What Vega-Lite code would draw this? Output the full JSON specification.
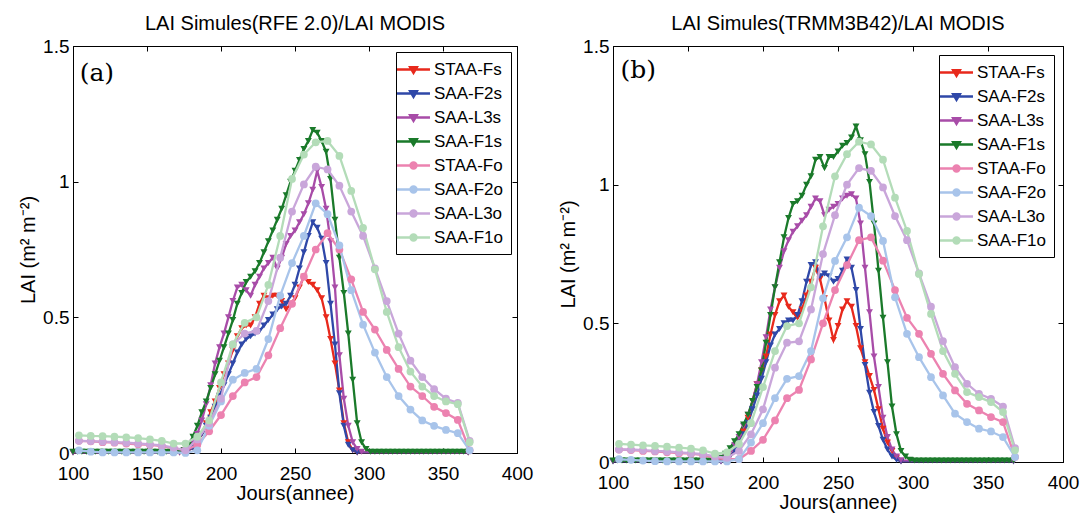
{
"$schema":"https://vega.github.io/schema/vega-lite/v6.json",
"padding":{"left":18,"top":13,"right":5,"bottom":5},
"config":{"font":"Liberation Sans","view":{"stroke":"black","strokeWidth":1},
"axis":{"grid":false,"domainColor":"black","tickColor":"black","labelColor":"black","titleColor":"black","labelFont":"Liberation Sans","titleFont":"Liberation Sans","labelFontSize":19,"titleFontSize":20,"titleFontWeight":"normal","tickSize":-5,"labelFlush":false,"labelOverlap":false},
"title":{"font":"Liberation Sans","fontSize":20,"fontWeight":"normal","color":"black","offset":3,"anchor":"middle"}},
"datasets":{
"a":[
{"s":"Fs","d":100,"v":0.002},{"s":"Fs","d":172,"v":0.002},{"s":"Fs","d":175,"v":0.005},{"s":"Fs","d":178,"v":0.01},{"s":"Fs","d":181,"v":0.02},{"s":"Fs","d":184,"v":0.04},{"s":"Fs","d":187,"v":0.07},{"s":"Fs","d":190,"v":0.11},{"s":"Fs","d":193,"v":0.15},{"s":"Fs","d":196,"v":0.19},{"s":"Fs","d":199,"v":0.24},{"s":"Fs","d":202,"v":0.29},{"s":"Fs","d":205,"v":0.33},{"s":"Fs","d":208,"v":0.38},{"s":"Fs","d":211,"v":0.43},{"s":"Fs","d":214,"v":0.46},{"s":"Fs","d":217,"v":0.47},{"s":"Fs","d":220,"v":0.47},{"s":"Fs","d":223,"v":0.5},{"s":"Fs","d":226,"v":0.55},{"s":"Fs","d":229,"v":0.58},{"s":"Fs","d":232,"v":0.57},{"s":"Fs","d":235,"v":0.58},{"s":"Fs","d":238,"v":0.58},{"s":"Fs","d":241,"v":0.56},{"s":"Fs","d":244,"v":0.53},{"s":"Fs","d":247,"v":0.55},{"s":"Fs","d":250,"v":0.57},{"s":"Fs","d":253,"v":0.61},{"s":"Fs","d":256,"v":0.65},{"s":"Fs","d":259,"v":0.63},{"s":"Fs","d":262,"v":0.62},{"s":"Fs","d":265,"v":0.6},{"s":"Fs","d":268,"v":0.57},{"s":"Fs","d":271,"v":0.5},{"s":"Fs","d":274,"v":0.42},{"s":"Fs","d":277,"v":0.33},{"s":"Fs","d":280,"v":0.23},{"s":"Fs","d":283,"v":0.11},{"s":"Fs","d":286,"v":0.04},{"s":"Fs","d":289,"v":0.01},{"s":"Fs","d":292,"v":0.002},{"s":"Fs","d":367,"v":0.002},
{"s":"F2s","d":100,"v":0.002},{"s":"F2s","d":172,"v":0.002},{"s":"F2s","d":175,"v":0.005},{"s":"F2s","d":178,"v":0.01},{"s":"F2s","d":181,"v":0.02},{"s":"F2s","d":184,"v":0.04},{"s":"F2s","d":187,"v":0.07},{"s":"F2s","d":190,"v":0.1},{"s":"F2s","d":193,"v":0.13},{"s":"F2s","d":196,"v":0.17},{"s":"F2s","d":199,"v":0.21},{"s":"F2s","d":202,"v":0.25},{"s":"F2s","d":205,"v":0.29},{"s":"F2s","d":208,"v":0.33},{"s":"F2s","d":211,"v":0.37},{"s":"F2s","d":214,"v":0.4},{"s":"F2s","d":217,"v":0.42},{"s":"F2s","d":220,"v":0.43},{"s":"F2s","d":223,"v":0.44},{"s":"F2s","d":226,"v":0.45},{"s":"F2s","d":229,"v":0.47},{"s":"F2s","d":232,"v":0.49},{"s":"F2s","d":235,"v":0.51},{"s":"F2s","d":238,"v":0.53},{"s":"F2s","d":241,"v":0.54},{"s":"F2s","d":244,"v":0.55},{"s":"F2s","d":247,"v":0.58},{"s":"F2s","d":250,"v":0.62},{"s":"F2s","d":253,"v":0.68},{"s":"F2s","d":256,"v":0.74},{"s":"F2s","d":259,"v":0.8},{"s":"F2s","d":262,"v":0.85},{"s":"F2s","d":265,"v":0.83},{"s":"F2s","d":268,"v":0.79},{"s":"F2s","d":271,"v":0.7},{"s":"F2s","d":274,"v":0.55},{"s":"F2s","d":277,"v":0.4},{"s":"F2s","d":280,"v":0.22},{"s":"F2s","d":283,"v":0.1},{"s":"F2s","d":286,"v":0.03},{"s":"F2s","d":289,"v":0.01},{"s":"F2s","d":292,"v":0.002},{"s":"F2s","d":367,"v":0.002},
{"s":"L3s","d":100,"v":0.003},{"s":"L3s","d":172,"v":0.003},{"s":"L3s","d":175,"v":0.01},{"s":"L3s","d":178,"v":0.02},{"s":"L3s","d":181,"v":0.04},{"s":"L3s","d":184,"v":0.07},{"s":"L3s","d":187,"v":0.12},{"s":"L3s","d":190,"v":0.18},{"s":"L3s","d":193,"v":0.25},{"s":"L3s","d":196,"v":0.33},{"s":"L3s","d":199,"v":0.39},{"s":"L3s","d":202,"v":0.44},{"s":"L3s","d":205,"v":0.5},{"s":"L3s","d":208,"v":0.56},{"s":"L3s","d":211,"v":0.61},{"s":"L3s","d":214,"v":0.62},{"s":"L3s","d":217,"v":0.6},{"s":"L3s","d":220,"v":0.58},{"s":"L3s","d":223,"v":0.62},{"s":"L3s","d":226,"v":0.65},{"s":"L3s","d":229,"v":0.68},{"s":"L3s","d":232,"v":0.7},{"s":"L3s","d":235,"v":0.72},{"s":"L3s","d":238,"v":0.68},{"s":"L3s","d":241,"v":0.72},{"s":"L3s","d":244,"v":0.77},{"s":"L3s","d":247,"v":0.8},{"s":"L3s","d":250,"v":0.82},{"s":"L3s","d":253,"v":0.85},{"s":"L3s","d":256,"v":0.88},{"s":"L3s","d":259,"v":0.92},{"s":"L3s","d":262,"v":0.97},{"s":"L3s","d":265,"v":1.04},{"s":"L3s","d":268,"v":0.98},{"s":"L3s","d":271,"v":0.9},{"s":"L3s","d":274,"v":0.78},{"s":"L3s","d":277,"v":0.61},{"s":"L3s","d":280,"v":0.36},{"s":"L3s","d":283,"v":0.2},{"s":"L3s","d":286,"v":0.1},{"s":"L3s","d":289,"v":0.04},{"s":"L3s","d":292,"v":0.015},{"s":"L3s","d":295,"v":0.005},{"s":"L3s","d":367,"v":0.003},
{"s":"F1s","d":100,"v":0.005},{"s":"F1s","d":103,"v":0.005},{"s":"F1s","d":106,"v":0.005},{"s":"F1s","d":109,"v":0.005},{"s":"F1s","d":112,"v":0.005},{"s":"F1s","d":115,"v":0.005},{"s":"F1s","d":118,"v":0.005},{"s":"F1s","d":121,"v":0.005},{"s":"F1s","d":124,"v":0.005},{"s":"F1s","d":127,"v":0.005},{"s":"F1s","d":130,"v":0.005},{"s":"F1s","d":133,"v":0.005},{"s":"F1s","d":136,"v":0.005},{"s":"F1s","d":139,"v":0.005},{"s":"F1s","d":142,"v":0.005},{"s":"F1s","d":145,"v":0.005},{"s":"F1s","d":148,"v":0.005},{"s":"F1s","d":151,"v":0.005},{"s":"F1s","d":154,"v":0.005},{"s":"F1s","d":157,"v":0.005},{"s":"F1s","d":160,"v":0.005},{"s":"F1s","d":163,"v":0.005},{"s":"F1s","d":166,"v":0.005},{"s":"F1s","d":169,"v":0.005},{"s":"F1s","d":172,"v":0.006},{"s":"F1s","d":175,"v":0.01},{"s":"F1s","d":178,"v":0.03},{"s":"F1s","d":181,"v":0.06},{"s":"F1s","d":184,"v":0.1},{"s":"F1s","d":187,"v":0.15},{"s":"F1s","d":190,"v":0.19},{"s":"F1s","d":193,"v":0.24},{"s":"F1s","d":196,"v":0.29},{"s":"F1s","d":199,"v":0.34},{"s":"F1s","d":202,"v":0.39},{"s":"F1s","d":205,"v":0.44},{"s":"F1s","d":208,"v":0.49},{"s":"F1s","d":211,"v":0.55},{"s":"F1s","d":214,"v":0.59},{"s":"F1s","d":217,"v":0.63},{"s":"F1s","d":220,"v":0.65},{"s":"F1s","d":223,"v":0.67},{"s":"F1s","d":226,"v":0.7},{"s":"F1s","d":229,"v":0.74},{"s":"F1s","d":232,"v":0.78},{"s":"F1s","d":235,"v":0.82},{"s":"F1s","d":238,"v":0.86},{"s":"F1s","d":241,"v":0.9},{"s":"F1s","d":244,"v":0.95},{"s":"F1s","d":247,"v":1.0},{"s":"F1s","d":250,"v":1.04},{"s":"F1s","d":253,"v":1.08},{"s":"F1s","d":256,"v":1.12},{"s":"F1s","d":259,"v":1.15},{"s":"F1s","d":262,"v":1.19},{"s":"F1s","d":265,"v":1.18},{"s":"F1s","d":268,"v":1.15},{"s":"F1s","d":271,"v":1.11},{"s":"F1s","d":274,"v":1.01},{"s":"F1s","d":277,"v":0.86},{"s":"F1s","d":280,"v":0.72},{"s":"F1s","d":283,"v":0.59},{"s":"F1s","d":286,"v":0.44},{"s":"F1s","d":289,"v":0.27},{"s":"F1s","d":292,"v":0.11},{"s":"F1s","d":295,"v":0.04},{"s":"F1s","d":298,"v":0.015},{"s":"F1s","d":301,"v":0.005},{"s":"F1s","d":304,"v":0.005},{"s":"F1s","d":307,"v":0.005},{"s":"F1s","d":310,"v":0.005},{"s":"F1s","d":313,"v":0.005},{"s":"F1s","d":316,"v":0.005},{"s":"F1s","d":319,"v":0.005},{"s":"F1s","d":322,"v":0.005},{"s":"F1s","d":325,"v":0.005},{"s":"F1s","d":328,"v":0.005},{"s":"F1s","d":331,"v":0.005},{"s":"F1s","d":334,"v":0.005},{"s":"F1s","d":337,"v":0.005},{"s":"F1s","d":340,"v":0.005},{"s":"F1s","d":343,"v":0.005},{"s":"F1s","d":346,"v":0.005},{"s":"F1s","d":349,"v":0.005},{"s":"F1s","d":352,"v":0.005},{"s":"F1s","d":355,"v":0.005},{"s":"F1s","d":358,"v":0.005},{"s":"F1s","d":361,"v":0.005},{"s":"F1s","d":364,"v":0.005},{"s":"F1s","d":367,"v":0.005},
{"s":"Fo","d":104,"v":0.045},{"s":"Fo","d":112,"v":0.043},{"s":"Fo","d":120,"v":0.04},{"s":"Fo","d":128,"v":0.038},{"s":"Fo","d":136,"v":0.035},{"s":"Fo","d":144,"v":0.032},{"s":"Fo","d":152,"v":0.03},{"s":"Fo","d":160,"v":0.025},{"s":"Fo","d":168,"v":0.018},{"s":"Fo","d":176,"v":0.01},{"s":"Fo","d":184,"v":0.03},{"s":"Fo","d":192,"v":0.08},{"s":"Fo","d":200,"v":0.14},{"s":"Fo","d":208,"v":0.21},{"s":"Fo","d":216,"v":0.26},{"s":"Fo","d":224,"v":0.28},{"s":"Fo","d":232,"v":0.36},{"s":"Fo","d":240,"v":0.46},{"s":"Fo","d":248,"v":0.55},{"s":"Fo","d":256,"v":0.65},{"s":"Fo","d":264,"v":0.75},{"s":"Fo","d":272,"v":0.81},{"s":"Fo","d":280,"v":0.75},{"s":"Fo","d":288,"v":0.64},{"s":"Fo","d":296,"v":0.52},{"s":"Fo","d":304,"v":0.455},{"s":"Fo","d":312,"v":0.38},{"s":"Fo","d":320,"v":0.31},{"s":"Fo","d":328,"v":0.245},{"s":"Fo","d":336,"v":0.21},{"s":"Fo","d":344,"v":0.17},{"s":"Fo","d":352,"v":0.147},{"s":"Fo","d":360,"v":0.122},{"s":"Fo","d":368,"v":0.01},
{"s":"F2o","d":104,"v":0.01},{"s":"F2o","d":112,"v":0.005},{"s":"F2o","d":120,"v":0.002},{"s":"F2o","d":128,"v":0.002},{"s":"F2o","d":136,"v":0.002},{"s":"F2o","d":144,"v":0.002},{"s":"F2o","d":152,"v":0.002},{"s":"F2o","d":160,"v":0.002},{"s":"F2o","d":168,"v":0.002},{"s":"F2o","d":176,"v":0.0},{"s":"F2o","d":184,"v":0.01},{"s":"F2o","d":192,"v":0.1},{"s":"F2o","d":200,"v":0.19},{"s":"F2o","d":208,"v":0.27},{"s":"F2o","d":216,"v":0.295},{"s":"F2o","d":224,"v":0.31},{"s":"F2o","d":232,"v":0.42},{"s":"F2o","d":240,"v":0.58},{"s":"F2o","d":248,"v":0.7},{"s":"F2o","d":256,"v":0.8},{"s":"F2o","d":264,"v":0.92},{"s":"F2o","d":272,"v":0.88},{"s":"F2o","d":280,"v":0.765},{"s":"F2o","d":288,"v":0.6},{"s":"F2o","d":296,"v":0.473},{"s":"F2o","d":304,"v":0.37},{"s":"F2o","d":312,"v":0.28},{"s":"F2o","d":320,"v":0.21},{"s":"F2o","d":328,"v":0.16},{"s":"F2o","d":336,"v":0.12},{"s":"F2o","d":344,"v":0.1},{"s":"F2o","d":352,"v":0.085},{"s":"F2o","d":360,"v":0.073},{"s":"F2o","d":368,"v":0.01},
{"s":"L3o","d":104,"v":0.045},{"s":"L3o","d":112,"v":0.044},{"s":"L3o","d":120,"v":0.042},{"s":"L3o","d":128,"v":0.04},{"s":"L3o","d":136,"v":0.038},{"s":"L3o","d":144,"v":0.035},{"s":"L3o","d":152,"v":0.032},{"s":"L3o","d":160,"v":0.028},{"s":"L3o","d":168,"v":0.02},{"s":"L3o","d":176,"v":0.01},{"s":"L3o","d":184,"v":0.05},{"s":"L3o","d":192,"v":0.11},{"s":"L3o","d":200,"v":0.2},{"s":"L3o","d":208,"v":0.4},{"s":"L3o","d":216,"v":0.44},{"s":"L3o","d":224,"v":0.45},{"s":"L3o","d":232,"v":0.56},{"s":"L3o","d":240,"v":0.72},{"s":"L3o","d":248,"v":0.89},{"s":"L3o","d":256,"v":0.99},{"s":"L3o","d":264,"v":1.055},{"s":"L3o","d":272,"v":1.045},{"s":"L3o","d":280,"v":0.985},{"s":"L3o","d":288,"v":0.89},{"s":"L3o","d":296,"v":0.8},{"s":"L3o","d":304,"v":0.68},{"s":"L3o","d":312,"v":0.56},{"s":"L3o","d":320,"v":0.44},{"s":"L3o","d":328,"v":0.34},{"s":"L3o","d":336,"v":0.28},{"s":"L3o","d":344,"v":0.235},{"s":"L3o","d":352,"v":0.2},{"s":"L3o","d":360,"v":0.185},{"s":"L3o","d":368,"v":0.045},
{"s":"F1o","d":104,"v":0.065},{"s":"F1o","d":112,"v":0.063},{"s":"F1o","d":120,"v":0.062},{"s":"F1o","d":128,"v":0.06},{"s":"F1o","d":136,"v":0.058},{"s":"F1o","d":144,"v":0.055},{"s":"F1o","d":152,"v":0.05},{"s":"F1o","d":160,"v":0.045},{"s":"F1o","d":168,"v":0.035},{"s":"F1o","d":176,"v":0.035},{"s":"F1o","d":184,"v":0.06},{"s":"F1o","d":192,"v":0.12},{"s":"F1o","d":200,"v":0.26},{"s":"F1o","d":208,"v":0.4},{"s":"F1o","d":216,"v":0.48},{"s":"F1o","d":224,"v":0.5},{"s":"F1o","d":232,"v":0.62},{"s":"F1o","d":240,"v":0.8},{"s":"F1o","d":248,"v":1.01},{"s":"F1o","d":256,"v":1.1},{"s":"F1o","d":264,"v":1.145},{"s":"F1o","d":272,"v":1.15},{"s":"F1o","d":280,"v":1.095},{"s":"F1o","d":288,"v":0.966},{"s":"F1o","d":296,"v":0.83},{"s":"F1o","d":304,"v":0.677},{"s":"F1o","d":312,"v":0.52},{"s":"F1o","d":320,"v":0.39},{"s":"F1o","d":328,"v":0.3},{"s":"F1o","d":336,"v":0.245},{"s":"F1o","d":344,"v":0.21},{"s":"F1o","d":352,"v":0.19},{"s":"F1o","d":360,"v":0.18},{"s":"F1o","d":368,"v":0.04}
],
"b":[
{"s":"Fs","d":100,"v":0.003},{"s":"Fs","d":172,"v":0.003},{"s":"Fs","d":175,"v":0.01},{"s":"Fs","d":178,"v":0.02},{"s":"Fs","d":181,"v":0.04},{"s":"Fs","d":184,"v":0.07},{"s":"Fs","d":187,"v":0.11},{"s":"Fs","d":190,"v":0.16},{"s":"Fs","d":193,"v":0.22},{"s":"Fs","d":196,"v":0.28},{"s":"Fs","d":199,"v":0.33},{"s":"Fs","d":202,"v":0.38},{"s":"Fs","d":205,"v":0.46},{"s":"Fs","d":208,"v":0.53},{"s":"Fs","d":211,"v":0.58},{"s":"Fs","d":214,"v":0.6},{"s":"Fs","d":217,"v":0.56},{"s":"Fs","d":220,"v":0.54},{"s":"Fs","d":223,"v":0.52},{"s":"Fs","d":226,"v":0.55},{"s":"Fs","d":229,"v":0.6},{"s":"Fs","d":232,"v":0.65},{"s":"Fs","d":235,"v":0.7},{"s":"Fs","d":238,"v":0.66},{"s":"Fs","d":241,"v":0.59},{"s":"Fs","d":244,"v":0.51},{"s":"Fs","d":247,"v":0.44},{"s":"Fs","d":250,"v":0.49},{"s":"Fs","d":253,"v":0.55},{"s":"Fs","d":256,"v":0.58},{"s":"Fs","d":259,"v":0.56},{"s":"Fs","d":262,"v":0.49},{"s":"Fs","d":265,"v":0.41},{"s":"Fs","d":268,"v":0.36},{"s":"Fs","d":271,"v":0.31},{"s":"Fs","d":274,"v":0.26},{"s":"Fs","d":277,"v":0.19},{"s":"Fs","d":280,"v":0.12},{"s":"Fs","d":283,"v":0.07},{"s":"Fs","d":286,"v":0.04},{"s":"Fs","d":289,"v":0.015},{"s":"Fs","d":292,"v":0.003},{"s":"Fs","d":367,"v":0.003},
{"s":"F2s","d":100,"v":0.002},{"s":"F2s","d":172,"v":0.002},{"s":"F2s","d":175,"v":0.01},{"s":"F2s","d":178,"v":0.02},{"s":"F2s","d":181,"v":0.04},{"s":"F2s","d":184,"v":0.07},{"s":"F2s","d":187,"v":0.1},{"s":"F2s","d":190,"v":0.14},{"s":"F2s","d":193,"v":0.19},{"s":"F2s","d":196,"v":0.24},{"s":"F2s","d":199,"v":0.3},{"s":"F2s","d":202,"v":0.36},{"s":"F2s","d":205,"v":0.42},{"s":"F2s","d":208,"v":0.46},{"s":"F2s","d":211,"v":0.48},{"s":"F2s","d":214,"v":0.5},{"s":"F2s","d":217,"v":0.51},{"s":"F2s","d":220,"v":0.51},{"s":"F2s","d":223,"v":0.53},{"s":"F2s","d":226,"v":0.58},{"s":"F2s","d":229,"v":0.65},{"s":"F2s","d":232,"v":0.71},{"s":"F2s","d":235,"v":0.72},{"s":"F2s","d":238,"v":0.67},{"s":"F2s","d":241,"v":0.68},{"s":"F2s","d":244,"v":0.67},{"s":"F2s","d":247,"v":0.65},{"s":"F2s","d":250,"v":0.66},{"s":"F2s","d":253,"v":0.69},{"s":"F2s","d":256,"v":0.73},{"s":"F2s","d":259,"v":0.7},{"s":"F2s","d":262,"v":0.62},{"s":"F2s","d":265,"v":0.48},{"s":"F2s","d":268,"v":0.35},{"s":"F2s","d":271,"v":0.25},{"s":"F2s","d":274,"v":0.18},{"s":"F2s","d":277,"v":0.13},{"s":"F2s","d":280,"v":0.08},{"s":"F2s","d":283,"v":0.045},{"s":"F2s","d":286,"v":0.02},{"s":"F2s","d":289,"v":0.008},{"s":"F2s","d":292,"v":0.002},{"s":"F2s","d":367,"v":0.002},
{"s":"L3s","d":100,"v":0.004},{"s":"L3s","d":172,"v":0.004},{"s":"L3s","d":175,"v":0.02},{"s":"L3s","d":178,"v":0.035},{"s":"L3s","d":181,"v":0.06},{"s":"L3s","d":184,"v":0.09},{"s":"L3s","d":187,"v":0.13},{"s":"L3s","d":190,"v":0.17},{"s":"L3s","d":193,"v":0.22},{"s":"L3s","d":196,"v":0.28},{"s":"L3s","d":199,"v":0.36},{"s":"L3s","d":202,"v":0.45},{"s":"L3s","d":205,"v":0.55},{"s":"L3s","d":208,"v":0.63},{"s":"L3s","d":211,"v":0.7},{"s":"L3s","d":214,"v":0.76},{"s":"L3s","d":217,"v":0.8},{"s":"L3s","d":220,"v":0.83},{"s":"L3s","d":223,"v":0.85},{"s":"L3s","d":226,"v":0.87},{"s":"L3s","d":229,"v":0.89},{"s":"L3s","d":232,"v":0.92},{"s":"L3s","d":235,"v":0.95},{"s":"L3s","d":238,"v":0.94},{"s":"L3s","d":241,"v":0.89},{"s":"L3s","d":244,"v":0.91},{"s":"L3s","d":247,"v":0.92},{"s":"L3s","d":250,"v":0.93},{"s":"L3s","d":253,"v":0.95},{"s":"L3s","d":256,"v":0.96},{"s":"L3s","d":259,"v":0.965},{"s":"L3s","d":262,"v":0.95},{"s":"L3s","d":265,"v":0.86},{"s":"L3s","d":268,"v":0.7},{"s":"L3s","d":271,"v":0.54},{"s":"L3s","d":274,"v":0.38},{"s":"L3s","d":277,"v":0.27},{"s":"L3s","d":280,"v":0.16},{"s":"L3s","d":283,"v":0.09},{"s":"L3s","d":286,"v":0.045},{"s":"L3s","d":289,"v":0.02},{"s":"L3s","d":292,"v":0.006},{"s":"L3s","d":367,"v":0.004},
{"s":"F1s","d":100,"v":0.005},{"s":"F1s","d":103,"v":0.005},{"s":"F1s","d":106,"v":0.005},{"s":"F1s","d":109,"v":0.005},{"s":"F1s","d":112,"v":0.005},{"s":"F1s","d":115,"v":0.005},{"s":"F1s","d":118,"v":0.005},{"s":"F1s","d":121,"v":0.005},{"s":"F1s","d":124,"v":0.005},{"s":"F1s","d":127,"v":0.005},{"s":"F1s","d":130,"v":0.005},{"s":"F1s","d":133,"v":0.005},{"s":"F1s","d":136,"v":0.005},{"s":"F1s","d":139,"v":0.005},{"s":"F1s","d":142,"v":0.005},{"s":"F1s","d":145,"v":0.005},{"s":"F1s","d":148,"v":0.005},{"s":"F1s","d":151,"v":0.005},{"s":"F1s","d":154,"v":0.005},{"s":"F1s","d":157,"v":0.005},{"s":"F1s","d":160,"v":0.005},{"s":"F1s","d":163,"v":0.005},{"s":"F1s","d":166,"v":0.005},{"s":"F1s","d":169,"v":0.008},{"s":"F1s","d":172,"v":0.015},{"s":"F1s","d":175,"v":0.03},{"s":"F1s","d":178,"v":0.05},{"s":"F1s","d":181,"v":0.075},{"s":"F1s","d":184,"v":0.1},{"s":"F1s","d":187,"v":0.135},{"s":"F1s","d":190,"v":0.17},{"s":"F1s","d":193,"v":0.22},{"s":"F1s","d":196,"v":0.27},{"s":"F1s","d":199,"v":0.33},{"s":"F1s","d":202,"v":0.43},{"s":"F1s","d":205,"v":0.53},{"s":"F1s","d":208,"v":0.63},{"s":"F1s","d":211,"v":0.72},{"s":"F1s","d":214,"v":0.81},{"s":"F1s","d":217,"v":0.88},{"s":"F1s","d":220,"v":0.93},{"s":"F1s","d":223,"v":0.94},{"s":"F1s","d":226,"v":0.96},{"s":"F1s","d":229,"v":1.0},{"s":"F1s","d":232,"v":1.03},{"s":"F1s","d":235,"v":1.09},{"s":"F1s","d":238,"v":1.1},{"s":"F1s","d":241,"v":1.06},{"s":"F1s","d":244,"v":1.1},{"s":"F1s","d":247,"v":1.1},{"s":"F1s","d":250,"v":1.12},{"s":"F1s","d":253,"v":1.14},{"s":"F1s","d":256,"v":1.15},{"s":"F1s","d":259,"v":1.17},{"s":"F1s","d":262,"v":1.21},{"s":"F1s","d":265,"v":1.16},{"s":"F1s","d":268,"v":1.11},{"s":"F1s","d":271,"v":1.01},{"s":"F1s","d":274,"v":0.86},{"s":"F1s","d":277,"v":0.69},{"s":"F1s","d":280,"v":0.52},{"s":"F1s","d":283,"v":0.36},{"s":"F1s","d":286,"v":0.2},{"s":"F1s","d":289,"v":0.1},{"s":"F1s","d":292,"v":0.04},{"s":"F1s","d":295,"v":0.02},{"s":"F1s","d":298,"v":0.008},{"s":"F1s","d":301,"v":0.005},{"s":"F1s","d":304,"v":0.005},{"s":"F1s","d":307,"v":0.005},{"s":"F1s","d":310,"v":0.005},{"s":"F1s","d":313,"v":0.005},{"s":"F1s","d":316,"v":0.005},{"s":"F1s","d":319,"v":0.005},{"s":"F1s","d":322,"v":0.005},{"s":"F1s","d":325,"v":0.005},{"s":"F1s","d":328,"v":0.005},{"s":"F1s","d":331,"v":0.005},{"s":"F1s","d":334,"v":0.005},{"s":"F1s","d":337,"v":0.005},{"s":"F1s","d":340,"v":0.005},{"s":"F1s","d":343,"v":0.005},{"s":"F1s","d":346,"v":0.005},{"s":"F1s","d":349,"v":0.005},{"s":"F1s","d":352,"v":0.005},{"s":"F1s","d":355,"v":0.005},{"s":"F1s","d":358,"v":0.005},{"s":"F1s","d":361,"v":0.005},{"s":"F1s","d":364,"v":0.005},{"s":"F1s","d":367,"v":0.005},
{"s":"Fo","d":104,"v":0.045},{"s":"Fo","d":112,"v":0.043},{"s":"Fo","d":120,"v":0.04},{"s":"Fo","d":128,"v":0.038},{"s":"Fo","d":136,"v":0.035},{"s":"Fo","d":144,"v":0.032},{"s":"Fo","d":152,"v":0.03},{"s":"Fo","d":160,"v":0.025},{"s":"Fo","d":168,"v":0.015},{"s":"Fo","d":176,"v":0.01},{"s":"Fo","d":184,"v":0.01},{"s":"Fo","d":192,"v":0.04},{"s":"Fo","d":200,"v":0.08},{"s":"Fo","d":208,"v":0.15},{"s":"Fo","d":216,"v":0.23},{"s":"Fo","d":224,"v":0.26},{"s":"Fo","d":232,"v":0.37},{"s":"Fo","d":240,"v":0.5},{"s":"Fo","d":248,"v":0.62},{"s":"Fo","d":256,"v":0.71},{"s":"Fo","d":264,"v":0.8},{"s":"Fo","d":272,"v":0.81},{"s":"Fo","d":280,"v":0.726},{"s":"Fo","d":288,"v":0.62},{"s":"Fo","d":296,"v":0.52},{"s":"Fo","d":304,"v":0.462},{"s":"Fo","d":312,"v":0.39},{"s":"Fo","d":320,"v":0.318},{"s":"Fo","d":328,"v":0.258},{"s":"Fo","d":336,"v":0.21},{"s":"Fo","d":344,"v":0.186},{"s":"Fo","d":352,"v":0.162},{"s":"Fo","d":360,"v":0.144},{"s":"Fo","d":368,"v":0.018},
{"s":"F2o","d":104,"v":0.01},{"s":"F2o","d":112,"v":0.008},{"s":"F2o","d":120,"v":0.005},{"s":"F2o","d":128,"v":0.003},{"s":"F2o","d":136,"v":0.002},{"s":"F2o","d":144,"v":0.002},{"s":"F2o","d":152,"v":0.002},{"s":"F2o","d":160,"v":0.002},{"s":"F2o","d":168,"v":0.002},{"s":"F2o","d":176,"v":0.002},{"s":"F2o","d":184,"v":0.01},{"s":"F2o","d":192,"v":0.07},{"s":"F2o","d":200,"v":0.14},{"s":"F2o","d":208,"v":0.23},{"s":"F2o","d":216,"v":0.3},{"s":"F2o","d":224,"v":0.31},{"s":"F2o","d":232,"v":0.4},{"s":"F2o","d":240,"v":0.59},{"s":"F2o","d":248,"v":0.725},{"s":"F2o","d":256,"v":0.81},{"s":"F2o","d":264,"v":0.917},{"s":"F2o","d":272,"v":0.887},{"s":"F2o","d":280,"v":0.797},{"s":"F2o","d":288,"v":0.594},{"s":"F2o","d":296,"v":0.462},{"s":"F2o","d":304,"v":0.378},{"s":"F2o","d":312,"v":0.306},{"s":"F2o","d":320,"v":0.24},{"s":"F2o","d":328,"v":0.174},{"s":"F2o","d":336,"v":0.144},{"s":"F2o","d":344,"v":0.12},{"s":"F2o","d":352,"v":0.11},{"s":"F2o","d":360,"v":0.09},{"s":"F2o","d":368,"v":0.018},
{"s":"L3o","d":104,"v":0.045},{"s":"L3o","d":112,"v":0.045},{"s":"L3o","d":120,"v":0.043},{"s":"L3o","d":128,"v":0.04},{"s":"L3o","d":136,"v":0.038},{"s":"L3o","d":144,"v":0.035},{"s":"L3o","d":152,"v":0.032},{"s":"L3o","d":160,"v":0.028},{"s":"L3o","d":168,"v":0.02},{"s":"L3o","d":176,"v":0.015},{"s":"L3o","d":184,"v":0.04},{"s":"L3o","d":192,"v":0.1},{"s":"L3o","d":200,"v":0.19},{"s":"L3o","d":208,"v":0.34},{"s":"L3o","d":216,"v":0.43},{"s":"L3o","d":224,"v":0.435},{"s":"L3o","d":232,"v":0.55},{"s":"L3o","d":240,"v":0.75},{"s":"L3o","d":248,"v":0.89},{"s":"L3o","d":256,"v":1.0},{"s":"L3o","d":264,"v":1.06},{"s":"L3o","d":272,"v":1.05},{"s":"L3o","d":280,"v":0.99},{"s":"L3o","d":288,"v":0.887},{"s":"L3o","d":296,"v":0.8},{"s":"L3o","d":304,"v":0.68},{"s":"L3o","d":312,"v":0.56},{"s":"L3o","d":320,"v":0.436},{"s":"L3o","d":328,"v":0.342},{"s":"L3o","d":336,"v":0.282},{"s":"L3o","d":344,"v":0.246},{"s":"L3o","d":352,"v":0.228},{"s":"L3o","d":360,"v":0.2},{"s":"L3o","d":368,"v":0.05},
{"s":"F1o","d":104,"v":0.065},{"s":"F1o","d":112,"v":0.063},{"s":"F1o","d":120,"v":0.06},{"s":"F1o","d":128,"v":0.058},{"s":"F1o","d":136,"v":0.055},{"s":"F1o","d":144,"v":0.052},{"s":"F1o","d":152,"v":0.048},{"s":"F1o","d":160,"v":0.042},{"s":"F1o","d":168,"v":0.03},{"s":"F1o","d":176,"v":0.035},{"s":"F1o","d":184,"v":0.065},{"s":"F1o","d":192,"v":0.14},{"s":"F1o","d":200,"v":0.27},{"s":"F1o","d":208,"v":0.4},{"s":"F1o","d":216,"v":0.49},{"s":"F1o","d":224,"v":0.5},{"s":"F1o","d":232,"v":0.63},{"s":"F1o","d":240,"v":0.85},{"s":"F1o","d":248,"v":1.03},{"s":"F1o","d":256,"v":1.11},{"s":"F1o","d":264,"v":1.155},{"s":"F1o","d":272,"v":1.145},{"s":"F1o","d":280,"v":1.09},{"s":"F1o","d":288,"v":0.953},{"s":"F1o","d":296,"v":0.833},{"s":"F1o","d":304,"v":0.678},{"s":"F1o","d":312,"v":0.534},{"s":"F1o","d":320,"v":0.4},{"s":"F1o","d":328,"v":0.318},{"s":"F1o","d":336,"v":0.252},{"s":"F1o","d":344,"v":0.234},{"s":"F1o","d":352,"v":0.216},{"s":"F1o","d":360,"v":0.18},{"s":"F1o","d":368,"v":0.042}
],
"la":[{"d":104.5,"v":1.4,"t":"(a)"}],
"lb":[{"d":105,"v":1.415,"t":"(b)"}]
},
"spacing":96,
"bounds":"flush",
"resolve":{"legend":{"color":"independent"}},
"hconcat":[
{"width":444,"height":407,"data":{"name":"a"},
"title":{"text":"LAI Simules(RFE 2.0)/LAI MODIS"},
"resolve":{"axis":{"x":"independent","y":"independent"}},
"encoding":{
"x":{"field":"d","type":"quantitative","scale":{"domain":[100,400],"nice":false},"axis":null},
"y":{"field":"v","type":"quantitative","scale":{"domain":[0,1.5],"nice":false},"axis":null}},
"layer":[
{"transform":[{"filter":{"field":"s","oneOf":["Fs","F2s","L3s","F1s"]}}],"mark":{"type":"line","strokeWidth":2.3},
"encoding":{
"x":{"field":"d","type":"quantitative","scale":{"domain":[100,400],"nice":false},"axis":{"orient":"bottom","title":"Jours(annee)","values":[100,150,200,250,300,350,400],"labelPadding":16,"titlePadding":0}},
"y":{"field":"v","type":"quantitative","scale":{"domain":[0,1.5],"nice":false},"axis":{"orient":"left","title":"LAI (m² m⁻²)","values":[0,0.5,1,1.5],"format":"~g","labelPadding":9,"titlePadding":4}},
"color":{"field":"s","type":"nominal","scale":{"domain":["Fs","F2s","L3s","F1s","Fo","F2o","L3o","F1o"],"range":["#e8291c","#2f48a8","#a84ca8","#1a7a2a","#ec82b0","#a8c4ea","#c9a6da","#b3dcb8"]},
"legend":{"title":null,"orient":"top-right","offset":6,"fillColor":"white","strokeColor":"black","padding":8,"labelFont":"Liberation Sans","labelFontSize":17,"labelColor":"black","symbolSize":272,"symbolStrokeWidth":2.5,"labelOffset":11,"rowPadding":6,"symbolType":"M-2,0H2",
"labelExpr":"datum.label == 'Fs' ? 'STAA-Fs' : datum.label == 'Fo' ? 'STAA-Fo' : 'SAA-' + datum.label",
"encode":{"symbols":{"update":{"shape":{"signal":"indexof(['Fs','F2s','L3s','F1s'], datum.value) >= 0 ? 'M-2,0H2M-0.4,-0.28H0.4L0,0.4Z' : 'M-2,0H2M0.36,0A0.36,0.36,0,1,1,-0.36,0A0.36,0.36,0,1,1,0.36,0Z'"},"fill":{"scale":"color","field":"value"}}}}}}}},
{"transform":[{"filter":{"field":"s","oneOf":["Fs","F2s","L3s","F1s"]}}],"mark":{"type":"point","shape":"triangle-down","filled":true,"size":48,"opacity":1},
"encoding":{"color":{"field":"s","type":"nominal","legend":null}}},
{"transform":[{"filter":{"field":"s","oneOf":["Fo","F2o","L3o","F1o"]}}],"mark":{"type":"line","strokeWidth":2.3},
"encoding":{"color":{"field":"s","type":"nominal","legend":null}}},
{"transform":[{"filter":{"field":"s","oneOf":["Fo","F2o","L3o","F1o"]}}],"mark":{"type":"point","shape":"circle","filled":true,"size":60,"opacity":1},
"encoding":{"color":{"field":"s","type":"nominal","legend":null}}},
{"data":{"name":"la"},"mark":{"type":"text","font":"DejaVu Serif","fontSize":25,"align":"left","baseline":"middle","color":"black"},
"encoding":{"text":{"field":"t"},
"x":{"field":"d","type":"quantitative","scale":{"domain":[100,400],"nice":false},"axis":{"orient":"top","labels":false,"title":null,"domain":false,"values":[100,150,200,250,300,350,400]}},
"y":{"field":"v","type":"quantitative","scale":{"domain":[0,1.5],"nice":false},"axis":{"orient":"right","labels":false,"title":null,"domain":false,"values":[0,0.5,1,1.5]}}}}
]},
{"width":450,"height":416,"data":{"name":"b"},
"title":{"text":"LAI Simules(TRMM3B42)/LAI MODIS"},
"resolve":{"axis":{"x":"independent","y":"independent"}},
"encoding":{
"x":{"field":"d","type":"quantitative","scale":{"domain":[100,400],"nice":false},"axis":null},
"y":{"field":"v","type":"quantitative","scale":{"domain":[0,1.5],"nice":false},"axis":null}},
"layer":[
{"transform":[{"filter":{"field":"s","oneOf":["Fs","F2s","L3s","F1s"]}}],"mark":{"type":"line","strokeWidth":2.3},
"encoding":{
"x":{"field":"d","type":"quantitative","scale":{"domain":[100,400],"nice":false},"axis":{"orient":"bottom","title":"Jours(annee)","values":[100,150,200,250,300,350,400],"labelPadding":16,"titlePadding":0}},
"y":{"field":"v","type":"quantitative","scale":{"domain":[0,1.5],"nice":false},"axis":{"orient":"left","title":"LAI (m² m⁻²)","values":[0,0.5,1,1.5],"format":"~g","labelPadding":9,"titlePadding":4}},
"color":{"field":"s","type":"nominal","scale":{"domain":["Fs","F2s","L3s","F1s","Fo","F2o","L3o","F1o"],"range":["#e8291c","#2f48a8","#a84ca8","#1a7a2a","#ec82b0","#a8c4ea","#c9a6da","#b3dcb8"]},
"legend":{"title":null,"orient":"top-right","offset":9,"fillColor":"white","strokeColor":"black","padding":8,"labelFont":"Liberation Sans","labelFontSize":17,"labelColor":"black","symbolSize":272,"symbolStrokeWidth":2.5,"labelOffset":11,"rowPadding":6,"symbolType":"M-2,0H2",
"labelExpr":"datum.label == 'Fs' ? 'STAA-Fs' : datum.label == 'Fo' ? 'STAA-Fo' : 'SAA-' + datum.label",
"encode":{"symbols":{"update":{"shape":{"signal":"indexof(['Fs','F2s','L3s','F1s'], datum.value) >= 0 ? 'M-2,0H2M-0.4,-0.28H0.4L0,0.4Z' : 'M-2,0H2M0.36,0A0.36,0.36,0,1,1,-0.36,0A0.36,0.36,0,1,1,0.36,0Z'"},"fill":{"scale":"color","field":"value"}}}}}}}},
{"transform":[{"filter":{"field":"s","oneOf":["Fs","F2s","L3s","F1s"]}}],"mark":{"type":"point","shape":"triangle-down","filled":true,"size":48,"opacity":1},
"encoding":{"color":{"field":"s","type":"nominal","legend":null}}},
{"transform":[{"filter":{"field":"s","oneOf":["Fo","F2o","L3o","F1o"]}}],"mark":{"type":"line","strokeWidth":2.3},
"encoding":{"color":{"field":"s","type":"nominal","legend":null}}},
{"transform":[{"filter":{"field":"s","oneOf":["Fo","F2o","L3o","F1o"]}}],"mark":{"type":"point","shape":"circle","filled":true,"size":60,"opacity":1},
"encoding":{"color":{"field":"s","type":"nominal","legend":null}}},
{"data":{"name":"lb"},"mark":{"type":"text","font":"DejaVu Serif","fontSize":25,"align":"left","baseline":"middle","color":"black"},
"encoding":{"text":{"field":"t"},
"x":{"field":"d","type":"quantitative","scale":{"domain":[100,400],"nice":false},"axis":{"orient":"top","labels":false,"title":null,"domain":false,"values":[100,150,200,250,300,350,400]}},
"y":{"field":"v","type":"quantitative","scale":{"domain":[0,1.5],"nice":false},"axis":{"orient":"right","labels":false,"title":null,"domain":false,"values":[0,0.5,1,1.5]}}}}
]}
]
}
